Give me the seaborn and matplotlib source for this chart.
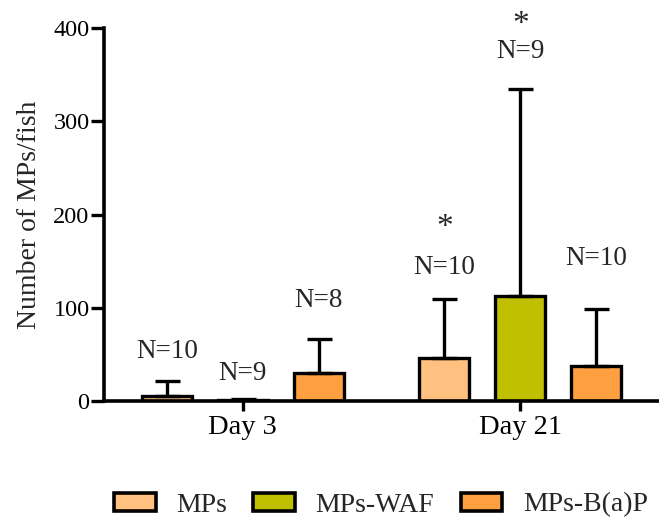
import matplotlib
matplotlib.use("Agg")
import matplotlib.pyplot as plt
import seaborn as sns
import pandas as pd
import numpy as np

days = ["Day 3", "Day 21"]
groups = ["MPs", "MPs-WAF", "MPs-B(a)P"]
means_day3 = [6, 1, 30]
means_day21 = [46, 113, 38]
upper_day3 = [22, 2, 67]
upper_day21 = [110, 335, 99]
n_day3 = ["N=10", "N=9", "N=8"]
n_day21 = ["N=10", "N=9", "N=10"]
stars_day21 = ["*", "*", ""]
colors = ["#FFC080", "#C0C000", "#FFA040"]

rows = []
for d, means, ups, ns, st in [(days[0], means_day3, upper_day3, n_day3, ["", "", ""]),
                              (days[1], means_day21, upper_day21, n_day21, stars_day21)]:
    for g, m, u, n, s in zip(groups, means, ups, ns, st):
        rows.append(dict(day=d, group=g, value=m, upper=u, n=n, star=s))
df = pd.DataFrame(rows)

sns.set_style("ticks")
plt.rcParams["font.family"] = ["Liberation Serif", "DejaVu Serif"]

fig = plt.figure(figsize=(6.59, 5.19), dpi=100)
ax = fig.add_axes([0.158, 0.227, 0.842, 0.719])

sns.barplot(data=df, x="day", y="value", hue="group", order=days, hue_order=groups,
            palette=colors, saturation=1, width=0.82, gap=0.34, edgecolor="black",
            linewidth=2.4, errorbar=None, legend=True, ax=ax)

ann_y = {("Day 3", "MPs"): 53, ("Day 3", "MPs-WAF"): 30, ("Day 3", "MPs-B(a)P"): 108,
         ("Day 21", "MPs"): 143, ("Day 21", "MPs-WAF"): 375, ("Day 21", "MPs-B(a)P"): 153}
star_y = {("Day 21", "MPs"): 186, ("Day 21", "MPs-WAF"): 404}

# seaborn draws bars hue by hue
for gi, g in enumerate(groups):
    for di, d in enumerate(days):
        p = ax.patches[gi * 2 + di]
        xc = p.get_x() + p.get_width() / 2
        r = df[(df.day == d) & (df.group == g)].iloc[0]
        ax.errorbar([xc], [r.value], yerr=[[0], [r.upper - r.value]], fmt="none",
                    ecolor="black", elinewidth=2.4, capsize=9, capthick=2.4, zorder=1)
        ax.text(xc, ann_y[(d, g)], r.n, ha="center", va="center", fontsize=19.5)
        if r.star:
            ax.text(xc, star_y[(d, g)], r.star, ha="center", va="center", fontsize=24,
                    clip_on=False)

ax.set_ylim(0, 400)
ax.set_xlim(-0.5, 1.5)
ax.set_yticks([0, 100, 200, 300, 400])
ax.set_xlabel("")
ax.set_ylabel("Number of MPs/fish", fontsize=20, labelpad=8)
ax.tick_params(axis="y", labelsize=17.5, width=2.4, length=9.5, pad=1, colors="black")
ax.tick_params(axis="x", labelsize=20.5, width=2.4, length=7, pad=3, colors="black")
sns.despine(ax=ax)
for s in ["left", "bottom"]:
    ax.spines[s].set_linewidth(2.6)
    ax.spines[s].set_color("black")

h, l = ax.get_legend_handles_labels()
ax.get_legend().remove()
leg = fig.legend(h, l, loc="center", bbox_to_anchor=(0.578, 0.027), ncol=3, frameon=False,
                 fontsize=20, handlelength=1.5, handleheight=0.63, columnspacing=0.95,
                 handletextpad=0.74, borderpad=0, borderaxespad=0)
for hp in leg.legend_handles:
    hp.set_edgecolor("black")
    hp.set_linewidth(2.6)

fig.savefig("out.png", dpi=100)
